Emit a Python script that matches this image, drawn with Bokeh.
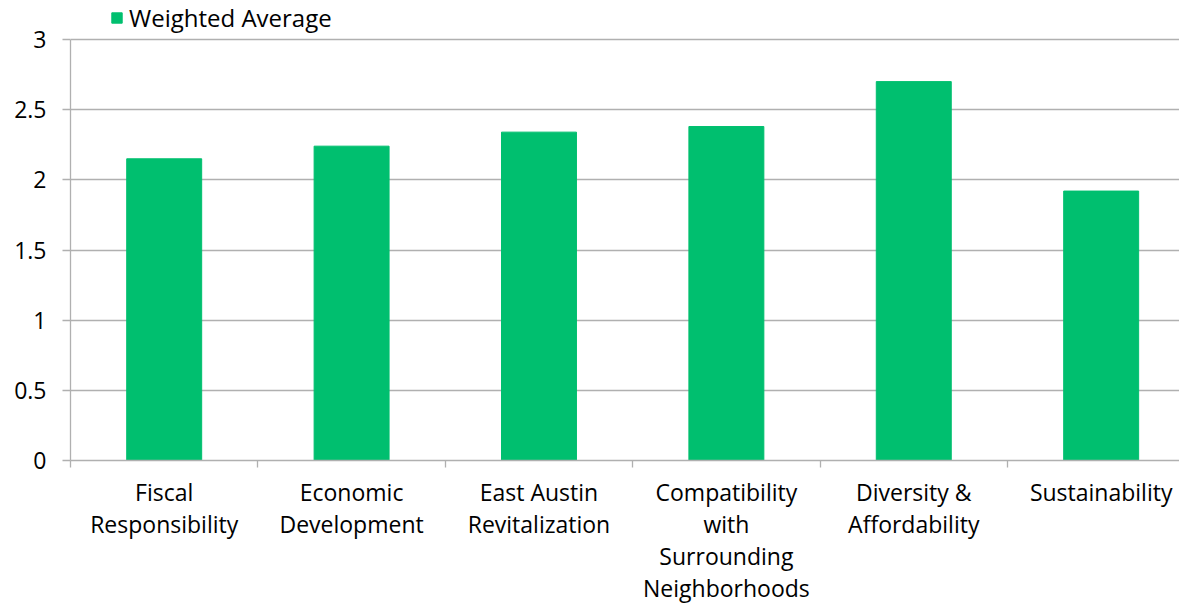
import numpy as np
from bokeh.plotting import figure
from bokeh.models import ColumnDataSource, FixedTicker, Range1d, Legend, LegendItem
from bokeh.embed import file_html
from bokeh.resources import INLINE

categories = ["Fiscal\nResponsibility", "Economic\nDevelopment", "East Austin\nRevitalization",
              "Compatibility\nwith\nSurrounding\nNeighborhoods", "Diversity &\nAffordability",
              "Sustainability"]
values = [2.15, 2.24, 2.34, 2.38, 2.70, 1.92]
y_ticks = [0, 0.5, 1, 1.5, 2, 2.5, 3]
y_tick_labels = ["0", "0.5", "1", "1.5", "2", "2.5", "3"]
series_name = "Weighted Average"

GREEN = "#00BF6F"
GRID = "#B0B0B0"
FONT = "Open Sans"

xpos = np.arange(len(categories)) + 0.5
src = ColumnDataSource(dict(x=xpos, top=values, cat=categories))

# the original chart is cropped on the right: the last category slot runs past the edge
p = figure(frame_width=1109, frame_height=460, output_backend="svg", toolbar_location=None,
           x_range=Range1d(0, 5.918), y_range=Range1d(0, 3.278),
           min_border_left=70, min_border_right=0, min_border_top=0, min_border_bottom=144)
p.outline_line_color = None
p.background_fill_color = "white"
p.border_fill_color = "white"

r = p.vbar(x="x", top="top", width=0.40, source=src, fill_color=GREEN, line_color=GREEN)

# x axis
p.xaxis.ticker = FixedTicker(ticks=list(xpos), minor_ticks=list(range(len(categories) + 1)))
p.xaxis.major_label_overrides = {float(x): c for x, c in zip(xpos, categories)}
p.xaxis.major_tick_out = 0
p.xaxis.major_tick_in = 0
p.xaxis.minor_tick_out = 7
p.xaxis.minor_tick_in = 0
p.xaxis.minor_tick_line_color = GRID
p.xaxis.minor_tick_line_width = 1.3
p.xaxis.axis_line_color = GRID
p.xaxis.axis_line_width = 1.3
p.xaxis.major_label_text_font = FONT
p.xaxis.major_label_text_font_size = "23px"
p.xaxis.major_label_text_color = "black"
p.xaxis.major_label_standoff = 8
p.xaxis.major_label_text_line_height = 1.0
p.xgrid.grid_line_color = None

# y axis
p.yaxis.bounds = (0, 3)
p.yaxis.ticker = FixedTicker(ticks=y_ticks, minor_ticks=[])
p.yaxis.major_label_overrides = {float(t): l for t, l in zip(y_ticks, y_tick_labels)}
p.yaxis.major_tick_out = 8
p.yaxis.major_tick_in = 0
p.yaxis.major_tick_line_color = GRID
p.yaxis.major_tick_line_width = 1.3
p.yaxis.axis_line_color = GRID
p.yaxis.axis_line_width = 1.3
p.yaxis.major_label_text_font = FONT
p.yaxis.major_label_text_font_size = "23px"
p.yaxis.major_label_text_color = "black"
p.yaxis.major_label_standoff = 16
p.ygrid.grid_line_color = GRID
p.ygrid.grid_line_width = 1.3
p.ygrid.ticker = FixedTicker(ticks=y_ticks)

legend = Legend(items=[LegendItem(label=series_name, renderers=[r])],
                orientation="horizontal", location=(40, 426),
                label_text_font=FONT, label_text_font_size="24px",
                label_text_color="black",
                glyph_width=13, glyph_height=13, label_standoff=6,
                padding=0, margin=0, spacing=0,
                border_line_color=None, background_fill_alpha=0)
p.add_layout(legend)

open("out.html", "w").write(file_html(p, INLINE))
